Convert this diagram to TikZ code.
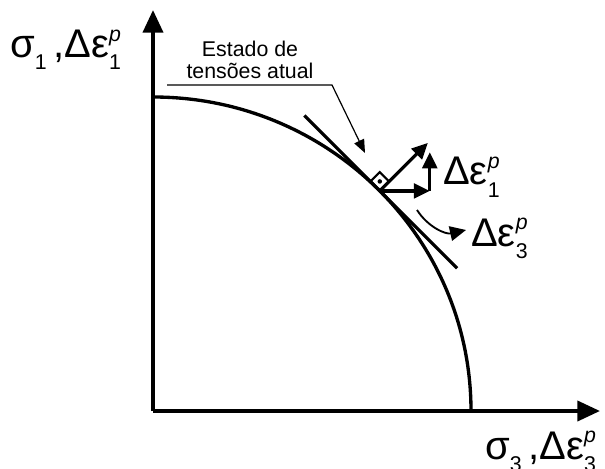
\documentclass[tikz,border=0pt]{standalone}
\usepackage{fontspec}
\setmainfont{Liberation Sans}
\usetikzlibrary{arrows.meta}
\newcommand{\scr}[1]{{\fontsize{16}{16}\selectfont #1}}
\newcommand{\plastic}[1]{Δε\rlap{\raisebox{0.42em}{\scr{\itshape p}}}\raisebox{-0.3em}{\scr{#1}}}

\begin{document}
\begin{tikzpicture}[x=0.75pt, y=0.75pt,
    axis/.style={line width=2.9pt, -{Triangle[length=17pt,width=15pt]}},
    curve/.style={line width=2.5pt},
    vec/.style={line width=2.4pt, -{Triangle[length=12pt,width=11pt]}},
    lbl/.style={font=\fontsize{30}{30}\selectfont, anchor=base west, inner sep=0pt}]
  \useasboundingbox (-153,-57) rectangle (452,411);
  % axes
  \coordinate (O) at (0,0);
  \coordinate (ytip) at (0,401);
  \coordinate (xtip) at (447,0);
  \draw[axis] (O) -- (ytip);
  \draw[axis] (O) -- (xtip);
  \node[lbl] (ylab) at (-143,353) {σ\raisebox{-0.3em}{\scr{1}}\,,\plastic{1}};
  \node[lbl] (xlab) at (332,-48) {σ\raisebox{-0.3em}{\scr{3}}\,,\plastic{3}};
  % yield surface and tangent
  \draw[curve] (0,314) arc[start angle=90, end angle=0, x radius=238.5pt, y radius=235.5pt];
  \coordinate (P) at (44.5:238.5pt and 235.5pt);
  \draw[curve] ([shift={(135:80pt)}]P) -- ([shift={(-45:82pt)}]P);
  \draw[line width=1.6pt] (P) -- ++(45:10pt) -- ++(135:10pt) -- ++(225:10pt);
  \fill ([shift={(90:7.1pt)}]P) circle (1.7pt);
  % plastic strain increment
  \coordinate (n) at ([shift={(45:51pt)}]P);
  \coordinate (h) at ([xshift=37.5pt]P);
  \coordinate (v) at ([yshift=29pt]h);
  \draw[vec] (P) -- (n);
  \draw[vec] (P) -- (h);
  \draw[vec] (h) -- (v);
  \node[lbl] (e1) at (290,226) {\plastic{1}};
  \coordinate (c0) at (264,201);
  \coordinate (c1) at (313,181);
  \draw[vec, line width=1.4pt] (c0) to[bend right=35] (c1);
  \node[lbl] (e3) at (318,165) {\plastic{3}};
  % stress state note
  \node[font=\fontsize{16}{16.5}\selectfont, align=center] (note) at (97,351) {Estado de\\tensões atual};
  \coordinate (l0) at (14,326);
  \coordinate (l1) at (179,326);
  \coordinate (l2) at (212,258);
  \draw[line width=0.9pt, -{Triangle[length=10pt,width=8pt]}] (l0) -- (l1) -- (l2);
\end{tikzpicture}
\end{document}
